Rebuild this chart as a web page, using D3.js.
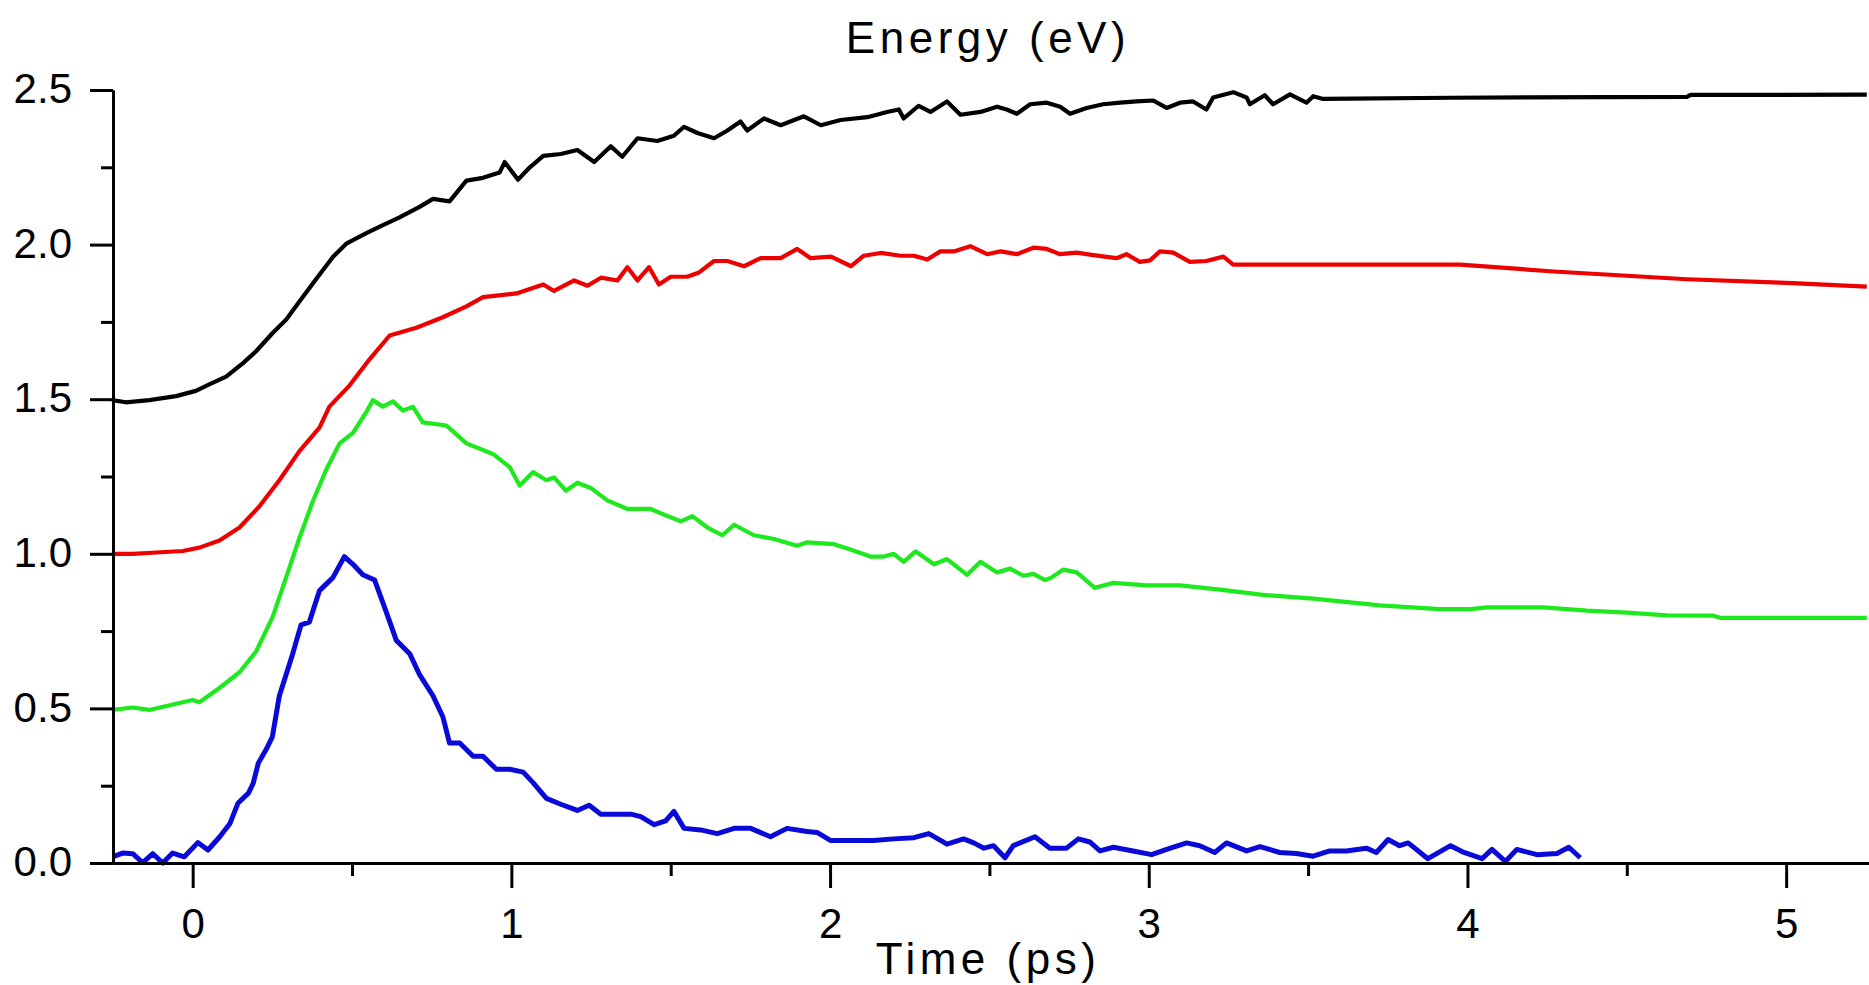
<!DOCTYPE html>
<html>
<head>
<meta charset="utf-8">
<script src="https://cdn.jsdelivr.net/npm/d3@7"></script>
<style>
  body { margin: 0; background: #fff; }
  svg { display: block; }
  .tick text { font-family: "Liberation Sans", Arial, sans-serif; }
</style>
</head>
<body>
<svg></svg>
<script>
// Canvas size
const width = 1869, height = 985;
const svg = d3.select("svg").attr("width", width).attr("height", height);

// Data: [time (ps), energy (eV)]
const black = [[-0.253,1.497],[-0.21,1.49],[-0.136,1.497],[-0.052,1.51],[0.01,1.527],[0.052,1.548],[0.105,1.573],[0.157,1.616],[0.199,1.655],[0.251,1.714],[0.293,1.757],[0.335,1.816],[0.387,1.888],[0.44,1.96],[0.482,2.003],[0.545,2.037],[0.597,2.063],[0.649,2.088],[0.712,2.122],[0.754,2.148],[0.806,2.14],[0.859,2.207],[0.911,2.216],[0.963,2.233],[0.979,2.267],[1.021,2.21],[1.058,2.25],[1.1,2.287],[1.155,2.293],[1.207,2.306],[1.26,2.267],[1.312,2.318],[1.348,2.284],[1.396,2.344],[1.458,2.335],[1.51,2.352],[1.542,2.381],[1.584,2.361],[1.636,2.344],[1.678,2.369],[1.719,2.398],[1.74,2.369],[1.793,2.408],[1.845,2.386],[1.918,2.415],[1.971,2.386],[2.033,2.403],[2.117,2.412],[2.179,2.429],[2.216,2.437],[2.231,2.408],[2.278,2.449],[2.315,2.429],[2.367,2.463],[2.409,2.42],[2.472,2.429],[2.524,2.446],[2.554,2.437],[2.586,2.423],[2.628,2.454],[2.68,2.459],[2.722,2.446],[2.753,2.423],[2.805,2.442],[2.857,2.454],[2.91,2.459],[2.962,2.463],[3.014,2.466],[3.056,2.442],[3.098,2.459],[3.139,2.463],[3.181,2.437],[3.202,2.476],[3.265,2.493],[3.307,2.476],[3.317,2.454],[3.364,2.483],[3.39,2.454],[3.443,2.486],[3.495,2.459],[3.516,2.48],[3.547,2.471],[3.947,2.475],[4.689,2.478],[4.7,2.484],[5.253,2.485]];

const red = [[-0.253,1.0],[-0.188,1.0],[-0.1,1.005],[-0.031,1.009],[0.021,1.02],[0.084,1.043],[0.147,1.085],[0.209,1.153],[0.272,1.238],[0.335,1.332],[0.398,1.408],[0.429,1.476],[0.492,1.544],[0.555,1.629],[0.618,1.706],[0.702,1.731],[0.785,1.765],[0.859,1.8],[0.911,1.83],[1.016,1.842],[1.1,1.871],[1.134,1.85],[1.197,1.884],[1.239,1.867],[1.281,1.893],[1.333,1.884],[1.364,1.927],[1.396,1.884],[1.432,1.927],[1.463,1.871],[1.5,1.896],[1.552,1.896],[1.589,1.91],[1.636,1.947],[1.678,1.947],[1.73,1.93],[1.782,1.956],[1.845,1.956],[1.897,1.986],[1.939,1.956],[2.003,1.961],[2.066,1.93],[2.106,1.964],[2.158,1.973],[2.221,1.964],[2.263,1.964],[2.305,1.952],[2.346,1.978],[2.388,1.978],[2.44,1.995],[2.493,1.969],[2.535,1.978],[2.586,1.969],[2.638,1.99],[2.68,1.986],[2.722,1.969],[2.774,1.974],[2.826,1.966],[2.899,1.956],[2.93,1.969],[2.972,1.944],[3.004,1.949],[3.035,1.978],[3.077,1.974],[3.129,1.944],[3.181,1.947],[3.234,1.961],[3.265,1.935],[3.978,1.935],[4.271,1.913],[4.689,1.888],[5.002,1.876],[5.253,1.864]];

const green = [[-0.253,0.495],[-0.188,0.503],[-0.136,0.495],[-0.052,0.515],[0,0.527],[0.021,0.52],[0.084,0.566],[0.147,0.617],[0.199,0.684],[0.251,0.796],[0.293,0.923],[0.335,1.051],[0.377,1.17],[0.419,1.272],[0.461,1.357],[0.503,1.391],[0.545,1.459],[0.565,1.497],[0.597,1.476],[0.628,1.493],[0.66,1.463],[0.691,1.476],[0.722,1.425],[0.796,1.415],[0.859,1.357],[0.942,1.323],[0.995,1.28],[1.026,1.221],[1.068,1.264],[1.11,1.238],[1.134,1.247],[1.171,1.204],[1.207,1.23],[1.249,1.213],[1.301,1.173],[1.364,1.145],[1.437,1.145],[1.49,1.122],[1.532,1.105],[1.568,1.122],[1.615,1.085],[1.662,1.06],[1.699,1.094],[1.761,1.06],[1.824,1.048],[1.897,1.026],[1.928,1.037],[2.012,1.031],[2.064,1.014],[2.127,0.991],[2.169,0.991],[2.2,1.0],[2.231,0.974],[2.268,1.008],[2.326,0.966],[2.367,0.983],[2.43,0.932],[2.472,0.974],[2.523,0.94],[2.565,0.952],[2.607,0.929],[2.638,0.935],[2.675,0.915],[2.695,0.923],[2.732,0.949],[2.774,0.94],[2.831,0.89],[2.889,0.906],[2.993,0.898],[3.098,0.898],[3.223,0.884],[3.359,0.867],[3.516,0.855],[3.725,0.833],[3.913,0.821],[4.009,0.821],[4.062,0.827],[4.239,0.827],[4.375,0.816],[4.5,0.81],[4.626,0.801],[4.772,0.8],[4.793,0.793],[5.253,0.793]];

const blue = [[-0.251,0.02],[-0.22,0.032],[-0.188,0.03],[-0.157,0.001],[-0.125,0.03],[-0.094,0.0],[-0.063,0.032],[-0.026,0.02],[0.016,0.066],[0.048,0.042],[0.085,0.085],[0.117,0.128],[0.142,0.193],[0.175,0.226],[0.19,0.258],[0.206,0.323],[0.23,0.366],[0.25,0.408],[0.272,0.541],[0.314,0.677],[0.34,0.77],[0.366,0.779],[0.398,0.881],[0.44,0.923],[0.476,0.991],[0.503,0.966],[0.534,0.932],[0.571,0.915],[0.607,0.813],[0.639,0.72],[0.681,0.677],[0.712,0.609],[0.754,0.541],[0.785,0.473],[0.806,0.388],[0.838,0.388],[0.88,0.345],[0.911,0.345],[0.953,0.303],[0.995,0.303],[1.037,0.294],[1.068,0.26],[1.11,0.209],[1.155,0.19],[1.207,0.17],[1.244,0.187],[1.281,0.158],[1.333,0.158],[1.375,0.158],[1.406,0.15],[1.448,0.124],[1.484,0.136],[1.51,0.167],[1.542,0.112],[1.594,0.107],[1.646,0.095],[1.699,0.112],[1.751,0.112],[1.813,0.085],[1.865,0.112],[1.928,0.102],[1.959,0.099],[2.001,0.073],[2.064,0.073],[2.137,0.073],[2.2,0.078],[2.263,0.082],[2.31,0.095],[2.367,0.061],[2.419,0.078],[2.451,0.065],[2.483,0.048],[2.513,0.056],[2.549,0.017],[2.575,0.056],[2.643,0.085],[2.69,0.048],[2.742,0.048],[2.779,0.078],[2.815,0.068],[2.847,0.039],[2.889,0.051],[2.951,0.039],[3.009,0.027],[3.056,0.044],[3.119,0.065],[3.16,0.056],[3.207,0.034],[3.244,0.065],[3.307,0.039],[3.349,0.053],[3.411,0.034],[3.463,0.031],[3.516,0.022],[3.568,0.039],[3.62,0.039],[3.683,0.048],[3.714,0.034],[3.751,0.076],[3.787,0.056],[3.814,0.065],[3.876,0.014],[3.947,0.056],[3.989,0.034],[4.046,0.014],[4.077,0.044],[4.119,0.005],[4.155,0.044],[4.218,0.027],[4.281,0.031],[4.318,0.051],[4.354,0.017]];

// Ticks
const xMajor = [0, 1, 2, 3, 4, 5];
const xMinor = [0.5, 1.5, 2.5, 3.5, 4.5];
const yMajor = [0, 0.5, 1.0, 1.5, 2.0, 2.5];
const yMinor = [0.25, 0.75, 1.25, 1.75, 2.25];

const series = [
    { data: black, color: "#000000", w: 4.2 },
    { data: red, color: "#ee0000", w: 4.2 },
    { data: green, color: "#1ee81e", w: 4.2 },
    { data: blue, color: "#0a0ad8", w: 5 }
];

// Scales
const x = d3.scaleLinear().domain([-0.25, 5.26]).range([113, 1869]);
const y = d3.scaleLinear().domain([0, 2.5]).range([863, 90]);

// Lines
const line = d3.line().x(d => x(d[0])).y(d => y(d[1]));
svg.selectAll("path.curve")
    .data(series)
    .enter().append("path")
    .attr("class", "curve")
    .attr("d", d => line(d.data))
    .attr("fill", "none")
    .attr("stroke", d => d.color)
    .attr("stroke-width", d => d.w)
    .attr("stroke-linejoin", "round");

// Axes
function styleAxis(g) {
    g.selectAll(".domain").attr("stroke", "#000").attr("stroke-width", 3);
    g.selectAll(".tick line").attr("stroke", "#000").attr("stroke-width", 3);
    g.selectAll(".tick text").attr("fill", "#000").attr("font-size", "42px");
}

svg.append("g")
    .attr("transform", "translate(0,863)")
    .call(d3.axisBottom(x).tickValues(xMinor).tickSize(13).tickSizeOuter(0).tickFormat(""))
    .call(styleAxis);
svg.append("g")
    .attr("transform", "translate(0,863)")
    .call(d3.axisBottom(x).tickValues(xMajor).tickSize(25).tickSizeOuter(0).tickPadding(20).tickFormat(d3.format("d")))
    .call(styleAxis);

svg.append("g")
    .attr("transform", "translate(113,0)")
    .call(d3.axisLeft(y).tickValues(yMinor).tickSize(12).tickSizeOuter(0).tickFormat(""))
    .call(styleAxis);
svg.append("g")
    .attr("transform", "translate(113,0)")
    .call(d3.axisLeft(y).tickValues(yMajor).tickSize(23).tickSizeOuter(0).tickPadding(18).tickFormat(d3.format(".1f")))
    .call(styleAxis)
    .selectAll(".tick text").attr("dy", "0.3em");

// Titles
svg.append("text")
    .attr("x", 988).attr("y", 53)
    .attr("text-anchor", "middle")
    .attr("font-family", "'Liberation Sans', Arial, sans-serif")
    .attr("font-size", "44px")
    .attr("letter-spacing", "4.5px")
    .text("Energy (eV)");

svg.append("text")
    .attr("x", 988).attr("y", 974)
    .attr("text-anchor", "middle")
    .attr("font-family", "'Liberation Sans', Arial, sans-serif")
    .attr("font-size", "44px")
    .attr("letter-spacing", "4.5px")
    .text("Time (ps)");
</script>
</body>
</html>
